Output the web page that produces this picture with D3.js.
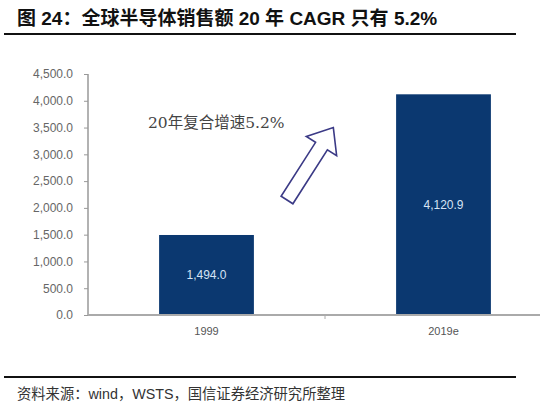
<!DOCTYPE html>
<html><head><meta charset="utf-8">
<script src="https://cdn.jsdelivr.net/npm/d3@7"></script>
<style>body{margin:0;background:#fff}</style>
</head><body>
<svg id="c" width="560" height="413"></svg>
<script>
const categories = ["1999", "2019e"];
const sales = [1494.0, 4120.9];
const yTicks = [0, 500, 1000, 1500, 2000, 2500, 3000, 3500, 4000, 4500];
const titleText = "图 24：全球半导体销售额 20 年 CAGR 只有 5.2%";
const noteText = "20年复合增速5.2%";
const sourceText = "资料来源：wind，WSTS，国信证券经济研究所整理";

const svg = d3.select("#c");
const sans = "'Liberation Sans', Arial, 'Noto Sans CJK SC', sans-serif";

svg.append("text").attr("x", 17).attr("y", 25)
  .attr("font-family", "'Liberation Sans', 'Noto Sans CJK SC', sans-serif")
  .attr("font-weight", "bold").attr("font-size", 19).attr("fill", "#111")
  .text(titleText);
svg.append("line").attr("x1", 4).attr("x2", 516).attr("y1", 34).attr("y2", 34)
  .attr("stroke", "#111").attr("stroke-width", 2);

const y = d3.scaleLinear().domain([0, 4500]).range([315, 74]);
const x = d3.scaleBand().domain(categories).range([88, 562])
  .paddingInner(0.6).paddingOuter(0.3);

// y axis
const ya = svg.append("g").attr("transform", "translate(88,0)")
  .call(d3.axisLeft(y).tickValues(yTicks).tickSize(4).tickPadding(11)
    .tickFormat(d3.format(",.1f")));
ya.select(".domain").attr("stroke", "#999").attr("stroke-width", 1.5).attr("d", "M0,74V315");
ya.selectAll(".tick line").attr("stroke", "#999");
ya.selectAll(".tick text").attr("font-family", sans).attr("font-size", 12).attr("fill", "#666");

// bars
svg.selectAll("rect.bar").data(sales).join("rect").attr("class", "bar")
  .attr("x", (d, i) => x(categories[i])).attr("width", x.bandwidth())
  .attr("y", d => y(d)).attr("height", d => y(0) - y(d))
  .attr("fill", "#0b3870");

svg.selectAll("text.val").data(sales).join("text").attr("class", "val")
  .attr("x", (d, i) => x(categories[i]) + x.bandwidth() / 2)
  .attr("y", d => (y(d) + y(0)) / 2 + 4)
  .attr("text-anchor", "middle").attr("font-family", sans).attr("font-size", 12)
  .attr("fill", "#d6e4f5").text(d => d3.format(",.1f")(d));

// x axis
const xa = svg.append("g").attr("transform", "translate(0,315)")
  .call(d3.axisBottom(x).tickSize(0).tickPadding(12));
xa.select(".domain").attr("stroke", "#aaa").attr("stroke-width", 2).attr("d", "M88,0H540");
xa.selectAll(".tick text").attr("font-family", sans).attr("font-size", 11).attr("fill", "#555");
// category separator tick
const mid = (x(categories[0]) + x(categories[1]) + x.bandwidth()) / 2;
svg.append("line").attr("x1", mid).attr("x2", mid).attr("y1", 315).attr("y2", 319)
  .attr("stroke", "#aaa");

// annotation
svg.append("text").attr("x", 148).attr("y", 128)
  .attr("font-family", "'DejaVu Serif', 'Liberation Serif', 'Noto Sans CJK SC', serif")
  .attr("font-size", 15.5).attr("fill", "#444").text(noteText);

// block arrow (outlined)
const L = 86, sw = 7, hw = 18, hl = 22;
const arrowPts = [[0,-sw],[L-hl,-sw],[L-hl,-hw],[L,0],[L-hl,hw],[L-hl,sw],[0,sw]];
svg.append("path")
  .attr("d", d3.line()(arrowPts) + "Z")
  .attr("transform", "translate(287,200) rotate(-57.4)")
  .attr("fill", "#fff").attr("stroke", "#3b3a86").attr("stroke-width", 1.6)
  .attr("stroke-linejoin", "miter");

// footer
svg.append("line").attr("x1", 4).attr("x2", 516).attr("y1", 377).attr("y2", 377)
  .attr("stroke", "#111").attr("stroke-width", 2);
svg.append("text").attr("x", 17).attr("y", 399)
  .attr("font-family", "'Liberation Sans', 'Noto Sans CJK SC', sans-serif")
  .attr("font-size", 14.3).attr("fill", "#333").text(sourceText);
</script>
</body></html>
